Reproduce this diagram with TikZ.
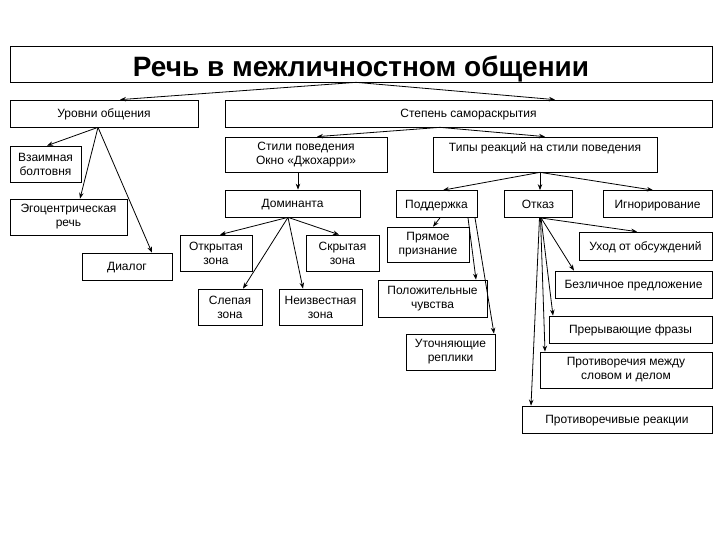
\documentclass[tikz,border=0pt]{standalone}
\usepackage{fontspec}
\setmainfont{Liberation Sans}
\usetikzlibrary{arrows.meta}
\begin{document}
\begin{tikzpicture}[x=1pt,y=-1pt,
  box/.style={draw, line width=0.7pt, inner sep=0pt, align=center,
    font=\fontsize{12}{14}\selectfont},
  onebox/.style={box, text height=8.6pt, text depth=0pt},
  arr/.style={-{Stealth[length=6pt,width=4.5pt]}, line width=0.8pt}]
\useasboundingbox[fill=white] (0,0) rectangle (720,540);
% title
\node[box, minimum width=702pt, minimum height=36pt, text height=26pt, text depth=0pt, font=\fontsize{28}{30}\bfseries\selectfont] (title) at (361,64) {Речь в межличностном общении};
% level 1
\node[onebox, minimum width=188pt, minimum height=27pt] (urov) at (104,113.5) {Уровни общения};
\node[onebox, minimum width=487pt, minimum height=27pt] (step) at (468.5,113.5) {Степень самораскрытия};
% left branch
\node[box, minimum width=71pt, minimum height=36pt] (vzaim) at (45.5,164) {Взаимная\\болтовня};
\node[box, minimum width=117pt, minimum height=36pt] (ego) at (68.5,217) {Эгоцентрическая\\речь};
\node[onebox, minimum width=90pt, minimum height=27pt] (dial) at (127,266.5) {Диалог};
% styles
\node[box, minimum width=162pt, minimum height=35pt] (stili) at (306,154.5) {Стили поведения\\Окно «Джохарри»};
\node[box, minimum width=224pt, minimum height=35pt] (tipy) at (545,154.5) {Типы реакций на стили поведения\\\mbox{}};
\node[onebox, minimum width=135pt, minimum height=27pt] (dom) at (292.5,203.5) {Доминанта};
\node[box, minimum width=72pt, minimum height=36pt] (otkr) at (216,253) {Открытая\\зона};
\node[box, minimum width=73pt, minimum height=36pt] (skr) at (342.5,253) {Скрытая\\зона};
\node[box, minimum width=64pt, minimum height=36pt] (slep) at (230,307) {Слепая\\зона};
\node[box, minimum width=83pt, minimum height=36pt] (neizv) at (320.5,307) {Неизвестная\\зона};
% reactions
\node[onebox, minimum width=81pt, minimum height=27pt] (podd) at (436.5,204) {Поддержка};
\node[onebox, minimum width=68pt, minimum height=27pt] (otk) at (538,204) {Отказ};
\node[onebox, minimum width=109pt, minimum height=27pt] (ign) at (657.5,204) {Игнорирование};
\node[box, minimum width=82pt, minimum height=35pt] (pryam) at (428,244.5) {Прямое\\признание};
\node[box, minimum width=109pt, minimum height=37pt] (polo) at (432.5,298.5) {Положительные\\чувства};
\node[box, minimum width=89pt, minimum height=36pt] (utoch) at (450.5,352) {Уточняющие\\реплики};
\node[onebox, minimum width=133pt, minimum height=28pt] (uhod) at (645.5,246) {Уход от обсуждений};
\node[onebox, minimum width=157pt, minimum height=27pt] (bezl) at (633.5,284.5) {Безличное предложение};
\node[onebox, minimum width=163pt, minimum height=27pt] (prer) at (630.5,329.5) {Прерывающие фразы};
\node[box, minimum width=172pt, minimum height=36pt] (protm) at (626,370) {Противоречия между\\словом и делом};
\node[onebox, minimum width=190pt, minimum height=27pt] (protr) at (617,419.5) {Противоречивые реакции};
% connectors
\draw[arr] ([xshift=-5pt]title.south) -- ([xshift=16pt]urov.north);
\draw[arr] ([xshift=-5pt]title.south) -- ([xshift=86.5pt]step.north);
\draw[arr] ([xshift=-6pt]urov.south) -- ([xshift=1.5pt]vzaim.north);
\draw[arr] ([xshift=-6pt]urov.south) -- ([xshift=11.5pt]ego.north);
\draw[arr] ([xshift=-6pt]urov.south) -- ([xshift=25pt]dial.north);
\draw[arr] ([xshift=-28.5pt]step.south) -- ([xshift=11pt]stili.north);
\draw[arr] ([xshift=-28.5pt]step.south) -- (tipy.north);
\draw[arr] ([xshift=-8pt]stili.south) -- ([xshift=5.5pt]dom.north);
\draw[arr] ([xshift=-4.5pt]dom.south) -- ([xshift=4pt]otkr.north);
\draw[arr] ([xshift=-4.5pt]dom.south) -- ([xshift=-3.5pt]skr.north);
\draw[arr] ([xshift=-4.5pt]dom.south) -- ([xshift=13pt]slep.north);
\draw[arr] ([xshift=-4.5pt]dom.south) -- ([xshift=-17.5pt]neizv.north);
\draw[arr] ([xshift=-5pt]tipy.south) -- ([xshift=6.5pt]podd.north);
\draw[arr] ([xshift=-5pt]tipy.south) -- ([xshift=2pt]otk.north);
\draw[arr] ([xshift=-5pt]tipy.south) -- ([xshift=-4.5pt]ign.north);
\draw[arr] ([xshift=3.5pt]podd.south) -- ([xshift=5pt]pryam.north);
\draw[arr] ([xshift=31.5pt]podd.south) -- ([xshift=43.5pt]polo.north);
\draw[arr] ([xshift=38.5pt]podd.south) -- ([xshift=43.5pt]utoch.north);
\draw[arr] ([xshift=2pt]otk.south) -- ([xshift=-8.5pt]uhod.north);
\draw[arr] ([xshift=3pt]otk.south) -- ([xshift=-59.5pt]bezl.north);
\draw[arr] ([xshift=3pt]otk.south) -- ([xshift=-77.5pt]prer.north);
\draw[arr] ([xshift=2.5pt]otk.south) -- ([xshift=-81pt]protm.north);
\draw[arr] ([xshift=1.5pt]otk.south) -- ([xshift=-86pt]protr.north);
\end{tikzpicture}
\end{document}
